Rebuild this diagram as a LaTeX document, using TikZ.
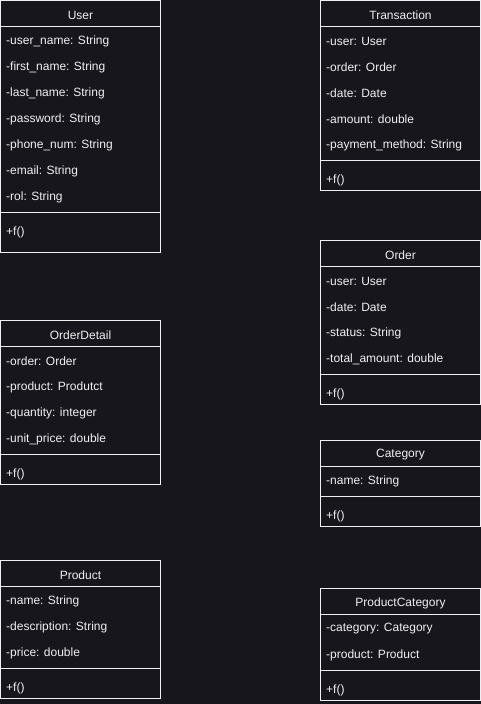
\documentclass[tikz,border=0pt]{standalone}
\usepackage{fontspec}
\setmainfont{Liberation Sans}
\definecolor{bg}{RGB}{24,22,29}
\definecolor{fg}{RGB}{240,240,240}
\newcommand\umlclass[7]{% #1 id, #2 left, #3 top, #4 title, #5 attrs, #6 n attrs, #7 method-section height
  \pgfmathsetmacro\sepy{#3+26+#6*26+4}
  \pgfmathsetmacro\boty{\sepy+#7}
  \draw[boxline] (#2,#3) rectangle (#2+160,\boty);
  \draw[boxline] (#2,#3+26) -- (#2+160,#3+26);
  \draw[boxline] (#2,\sepy) -- (#2+160,\sepy);
  \node[ttl] (#1-title) at (#2+80,#3+14.5) {#4};
  \foreach \a [count=\i] in {#5} {
    \node[attr] (#1-a\i) at (#2+5.5,#3+40.5+\i*26-26) {\a};
  }
  \node[attr] (#1-m) at (#2+5.5,\sepy+19.5) {+f()};
}
\begin{document}
\begin{tikzpicture}[x=1pt,y=-1pt,
  boxline/.style={draw=fg,line width=1pt},
  ttl/.style={text=fg,font=\fontsize{12}{14}\selectfont,inner sep=0pt,anchor=center},
  attr/.style={text=fg,font=\fontsize{12}{14}\selectfont,inner sep=0pt,anchor=west}]
\fill[bg] (0,0) rectangle (481,704);
\useasboundingbox (0,0) rectangle (481,704);
\umlclass{user}{0.5}{0.5}{User}{-user\_name: String,-first\_name: String,-last\_name: String,-password: String,-phone\_num: String,-email: String,-rol: String}{7}{40}
\umlclass{transaction}{320.5}{0.5}{Transaction}{-user: User,-order: Order,-date: Date,-amount: double,-payment\_method: String}{5}{30}
\umlclass{order}{320.5}{240.5}{Order}{-user: User,-date: Date,-status: String,-total\_amount: double}{4}{30}
\umlclass{category}{320.5}{440.5}{Category}{-name: String}{1}{30}
\umlclass{orderdetail}{0.5}{320.5}{OrderDetail}{-order: Order,-product: Produtct,-quantity: integer,-unit\_price: double}{4}{30}
\umlclass{product}{0.5}{560.5}{Product}{-name: String,-description: String,-price: double}{3}{30}
\umlclass{productcategory}{320.5}{588.5}{ProductCategory}{-category: Category,-product: Product}{2}{30}
\end{tikzpicture}
\end{document}
